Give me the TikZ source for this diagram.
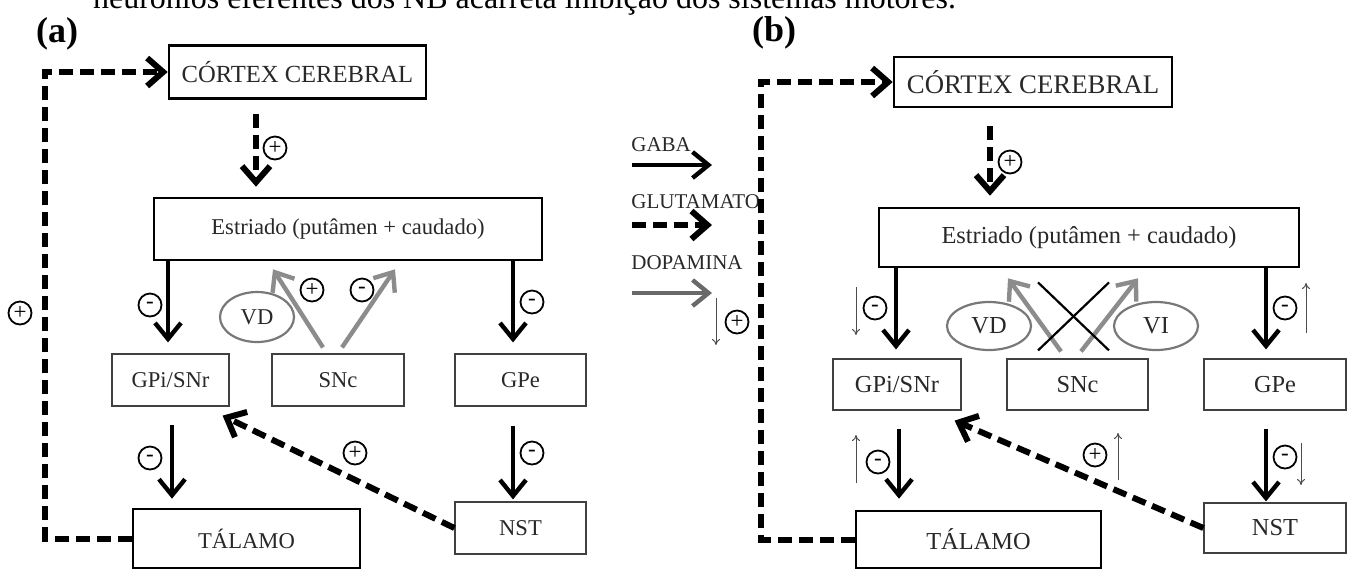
\documentclass[tikz,border=0pt]{standalone}
\usepackage{fontspec}
\setmainfont{Liberation Serif}
\usetikzlibrary{arrows.meta,calc,shapes.geometric}
\definecolor{dopagray}{RGB}{140,140,140}
\definecolor{legendgray}{RGB}{105,105,105}
\definecolor{ellgray}{RGB}{120,120,120}
\definecolor{boxtext}{RGB}{40,40,40}
\begin{document}
\begin{tikzpicture}[x=0.5pt, y=-0.5pt,
  fontA/.style={font=\fontsize{11.3}{13}\selectfont},
  fontB/.style={font=\fontsize{12.2}{14}\selectfont},
  capsA/.style={font=\fontsize{12.3}{14}\selectfont},
  capsB/.style={font=\fontsize{13.4}{15}\selectfont},
  bigbox/.style={draw, line width=1.3pt, text=boxtext, inner sep=0pt},
  smallbox/.style={draw=black!75, line width=0.6pt, text=boxtext, inner sep=0pt},
  nucleus/.style={ellipse, draw=ellgray, line width=1.1pt, text=boxtext, inner sep=0pt},
  sign/.style={circle, draw, line width=0.9pt, inner sep=0pt, minimum size=11.5pt, font=\fontsize{11.5}{11.5}\selectfont},
  panel/.style={font=\bfseries\fontsize{18}{18}\selectfont},
  legend/.style={anchor=west, inner sep=0pt, text=boxtext, font=\fontsize{10.5}{12}\selectfont},
  gaba/.style={line width=2.2pt, -{Straight Barb[length=8pt,width=13pt]}},
  glut/.style={line width=3pt, dash pattern=on 7pt off 3.5pt, -{Straight Barb[length=8pt,width=14pt]}},
  dopa/.style={line width=2.2pt, draw=dopagray, -{Straight Barb[length=8pt,width=13pt]}},
  trend/.style={line width=0.5pt, draw=black!70, -{To[length=3pt,width=4pt]}}]
\useasboundingbox (0,0) rectangle (1352,570);
\clip (0,0) rectangle (1352,570);

\node[anchor=base west, font=\fontsize{16}{16}\selectfont] (topline) at (86,8) {neurônios eferentes dos NB acarreta inibição dos sistemas motores.};

\node[panel] (labA) at (57,34) {(a)};
\node[bigbox, capsA, minimum width=128.5pt, minimum height=26.5pt] (ctxA) at (297.5,72) {CÓRTEX CEREBRAL};
\node[bigbox, fontA, minimum width=194pt, minimum height=31pt] (strA) at (348,229) {Estriado (putâmen + caudado)};
\node[smallbox, fontA, minimum width=58.5pt, minimum height=26pt] (gpiA) at (170.5,380) {GPi/SNr};
\node[smallbox, fontA, minimum width=66pt, minimum height=26pt] (sncA) at (338,380) {SNc};
\node[smallbox, fontA, minimum width=65.5pt, minimum height=26pt] (gpeA) at (520.5,380) {GPe};
\node[bigbox, fontA, minimum width=113.5pt, minimum height=29.5pt] (thA) at (246.5,538.5) {TÁLAMO};
\node[smallbox, fontA, minimum width=65.5pt, minimum height=26pt] (nstA) at (520.5,528) {NST};
\node[nucleus, fontA, minimum width=37pt, minimum height=25pt] (vdA) at (257,317) {VD};
\coordinate (fbA) at (45,72);

\draw[glut] ($(ctxA.south)+(-41.5,14.5)$) -- ($(strA.north)+(-92,-10)$);
\draw[gaba] ($(gpiA.north)+(-2.5,-94)$) -- ($(gpiA.north)+(-2.5,-11)$);
\draw[gaba] ($(gpiA.south)+(1.5,18)$) -- ($(thA.north)+(-74.5,-9)$);
\draw[gaba] ($(gpeA.north)+(-7.5,-94)$) -- ($(gpeA.north)+(-7.5,-11)$);
\draw[gaba] ($(gpeA.south)+(-7.5,19)$) -- ($(nstA.north)+(-7.5,-2)$);
\draw[glut] (nstA.west) -- ($(gpiA.south east)+(-7,9)$);
\draw[dopa] ($(sncA.north)+(-15,-6)$) -- ($(strA.south)+(-75,8)$);
\draw[dopa] ($(sncA.north)+(4,-6)$) -- ($(strA.south)+(47,8)$);
\draw[glut, line join=miter] (thA.west) -| (fbA) -- (ctxA.west);

\node[sign] (pA1) at (275,148) {+};
\node[sign] (mA1) at (150,305) {-};
\node[sign] (pA2) at (312,290) {+};
\node[sign] (mA2) at (362,290) {-};
\node[sign] (mA3) at (532,302) {-};
\node[sign] (mA4) at (150,458) {-};
\node[sign] (pA3) at (355,453) {+};
\node[sign] (mA5) at (532,453) {-};
\node[sign] (pA4) at (20,313) {+};

\node[legend] (lgGaba) at (631,145) {GABA};
\node[legend] (lgGlu) at (631,202) {GLUTAMATO};
\node[legend] (lgDopa) at (631,263) {DOPAMINA};
\coordinate (gabaS) at (632,165);
\coordinate (gabaE) at (712,165);
\coordinate (gluS) at (632,225);
\coordinate (gluE) at (712,225);
\coordinate (dopaS) at (632,293);
\coordinate (dopaE) at (712,293);
\draw[gaba] (gabaS) -- (gabaE);
\draw[glut] (gluS) -- (gluE);
\draw[dopa, draw=legendgray] (dopaS) -- (dopaE);
\node[sign] (pL) at (737,322) {+};
\draw[trend] ($(pL)+(-21,-24)$) -- ($(pL)+(-21,23)$);

\node[panel] (labB) at (774,33) {(b)};
\node[bigbox, capsB, minimum width=139pt, minimum height=25pt] (ctxB) at (1033,82) {CÓRTEX CEREBRAL};
\node[bigbox, fontB, minimum width=210pt, minimum height=29.5pt] (strB) at (1089,237.5) {Estriado (putâmen + caudado)};
\node[smallbox, fontB, minimum width=64pt, minimum height=25.5pt] (gpiB) at (897,384.5) {GPi/SNr};
\node[smallbox, fontB, minimum width=70.5pt, minimum height=25.5pt] (sncB) at (1077.5,384.5) {SNc};
\node[smallbox, fontB, minimum width=71pt, minimum height=25.5pt] (gpeB) at (1275,384.5) {GPe};
\node[bigbox, fontB, minimum width=122.5pt, minimum height=28.5pt] (thB) at (978.5,539.5) {TÁLAMO};
\node[smallbox, fontB, minimum width=71pt, minimum height=25pt] (nstB) at (1275,528) {NST};
\node[nucleus, fontB, minimum width=42pt, minimum height=24pt] (vdB) at (989,326) {VD};
\node[nucleus, fontB, minimum width=42pt, minimum height=24pt] (viB) at (1156,326) {VI};
\coordinate (fbB) at (761,82);

\draw[glut] ($(ctxB.south)+(-43,18)$) -- ($(strB.north)+(-99,-11)$);
\draw[gaba] ($(gpiB.north)+(-1,-92)$) -- ($(gpiB.north)+(-1,-9)$);
\draw[gaba] ($(gpiB.south)+(2,18)$) -- ($(thB.north)+(-79.5,-11)$);
\draw[gaba] ($(gpeB.north)+(-9,-92)$) -- ($(gpeB.north)+(-9,-9)$);
\draw[gaba] ($(gpeB.south)+(-9,18)$) -- ($(nstB.north)+(-9,-1)$);
\draw[glut] (nstB.west) -- ($(gpiB.south east)+(-7,10)$);
\draw[dopa] ($(sncB.north)+(-16.5,-7)$) -- ($(strB.south)+(-81,10)$);
\draw[dopa] ($(sncB.north)+(3.5,-7)$) -- ($(strB.south)+(49,10)$);
\draw[line width=1.1pt] ($(sncB.north)+(-39.5,-76)$) -- ($(sncB.north)+(31.5,-8)$);
\draw[line width=1.1pt] ($(sncB.north)+(31.5,-76)$) -- ($(sncB.north)+(-39.5,-8)$);
\draw[glut, line join=miter] (thB.west) -| (fbB) -- (ctxB.west);

\node[sign] (pB1) at (1010,162) {+};
\node[sign] (mB1) at (875,308) {-};
\node[sign] (mB2) at (878,462) {-};
\node[sign] (mB3) at (1285,308) {-};
\node[sign] (mB4) at (1285,457) {-};
\node[sign] (pB3) at (1095,455) {+};
\draw[trend] ($(mB1)+(-19,-21)$) -- ($(mB1)+(-19,27)$);
\draw[trend] ($(mB2)+(-22,21)$) -- ($(mB2)+(-22,-27)$);
\draw[trend] ($(mB3)+(21,25)$) -- ($(mB3)+(21,-25)$);
\draw[trend] ($(mB4)+(16,-14)$) -- ($(mB4)+(16,28)$);
\draw[trend] ($(pB3)+(23,25)$) -- ($(pB3)+(23,-22)$);
\end{tikzpicture}
\end{document}
